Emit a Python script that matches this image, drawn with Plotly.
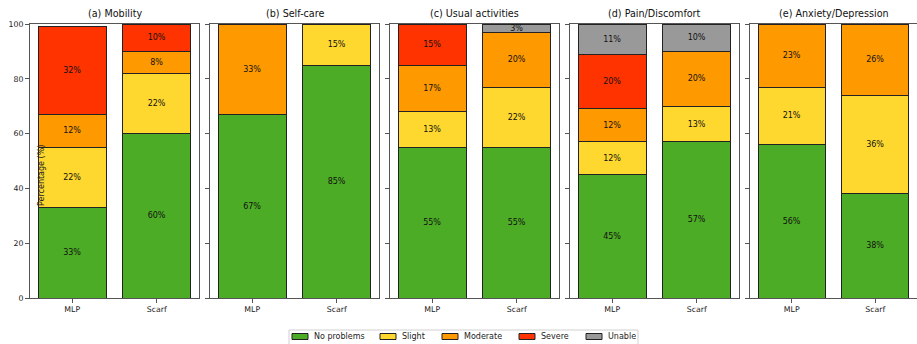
import plotly.graph_objects as go

W, H = 917, 344

panels = ["(a) Mobility", "(b) Self-care", "(c) Usual activities", "(d) Pain/Discomfort", "(e) Anxiety/Depression"]
models = ["MLP", "Scarf"]
levels = ["No problems", "Slight", "Moderate", "Severe", "Unable"]
colors = ["#4dac26", "#fed82f", "#ff9900", "#ff3300", "#999999"]

# values per panel: [MLP, Scarf] for each level
no_problems = [[33, 60], [67, 85], [55, 55], [45, 57], [56, 38]]
slight      = [[22, 22], [0, 15], [13, 22], [12, 13], [21, 36]]
moderate    = [[12, 8], [33, 0], [17, 20], [12, 20], [23, 26]]
severe      = [[32, 10], [0, 0], [15, 0], [20, 0], [0, 0]]
unable      = [[0, 0], [0, 0], [0, 3], [11, 10], [0, 0]]
series = [no_problems, slight, moderate, severe, unable]

# panel pixel extents
px_left = [30, 210, 390, 570, 750]
px_width = 169
top_px, bot_px = 24, 298
FONT = "DejaVu Sans"

def px_x(v):
    return v / W

def px_y(v):
    return 1 - v / H

fig = go.Figure()
for p in range(5):
    xa = "x" if p == 0 else f"x{p+1}"
    ya = "y" if p == 0 else f"y{p+1}"
    for li, lvl in enumerate(levels):
        vals = series[li][p]
        fig.add_trace(go.Bar(
            x=models, y=[v if v else None for v in vals],
            name=lvl, showlegend=False,
            marker=dict(color=colors[li], line=dict(color="#222222", width=1)),
            text=[f"{v}%" if v else "" for v in vals],
            textposition="inside", insidetextanchor="middle",
            textfont=dict(size=8, color="#111111", family=FONT),
            constraintext="none", width=0.8,
            xaxis=xa, yaxis=ya, hoverinfo="skip",
        ))
    d0 = px_x(px_left[p])
    d1 = min(px_x(px_left[p] + px_width), 1.0)
    axis_style = dict(showline=True, mirror=True, linecolor="#555555", linewidth=1,
                      ticks="outside", ticklen=4, tickcolor="#555555",
                      tickfont=dict(size=7.8, family=FONT, color="#222222"),
                      showgrid=False, zeroline=False, automargin=False)
    xkey = "xaxis" if p == 0 else f"xaxis{p+1}"
    ykey = "yaxis" if p == 0 else f"yaxis{p+1}"
    fig.update_layout(**{
        xkey: dict(domain=[d0, d1], anchor=ya, range=[-0.5, 1.5], **axis_style),
        ykey: dict(domain=[px_y(bot_px), px_y(top_px)], anchor=xa, range=[0, 100],
                   tickvals=[0, 20, 40, 60, 80, 100], showticklabels=(p == 0), **axis_style),
    })
    fig.add_annotation(text=panels[p], x=(d0 + d1) / 2, y=px_y(21), xref="paper", yref="paper",
                       xanchor="center", yanchor="bottom", showarrow=False,
                       font=dict(size=9.6, family=FONT, color="#111111"))

fig.add_annotation(text="Percentage (%)", x=px_x(41), y=px_y(176), xref="paper", yref="paper",
                   textangle=-90, showarrow=False, xanchor="center", yanchor="middle",
                   font=dict(size=8, family=FONT, color="#222222"))

# legend drawn as shapes + text (keeps the plot area from being shrunk)
leg_box = dict(l=289, r=638, t=330, b=350)
fig.add_shape(type="rect", xref="paper", yref="paper",
              x0=px_x(leg_box["l"]), x1=px_x(leg_box["r"]), y0=px_y(leg_box["b"]), y1=px_y(leg_box["t"]),
              line=dict(color="#d0d0d0", width=1), fillcolor="white", layer="above")
sym_left = [292, 380, 442, 519, 586]
sym_cy = 336.5
for li, lvl in enumerate(levels):
    sx = sym_left[li]
    fig.add_shape(type="rect", xref="paper", yref="paper",
                  x0=px_x(sx), x1=px_x(sx + 16), y0=px_y(sym_cy + 3), y1=px_y(sym_cy - 3),
                  line=dict(color="#222222", width=1), fillcolor=colors[li], layer="above")
    fig.add_annotation(text=lvl, x=px_x(sx + 20), y=px_y(sym_cy), xref="paper", yref="paper",
                       xanchor="left", yanchor="middle", showarrow=False,
                       font=dict(size=8, family=FONT, color="#222222"))

fig.update_layout(
    width=W, height=H, margin=dict(l=0, r=0, t=0, b=0, autoexpand=False),
    barmode="stack", plot_bgcolor="white", paper_bgcolor="white",
    uniformtext=dict(minsize=8, mode="show"),
    showlegend=False,
)

fig.write_html("out.html")
